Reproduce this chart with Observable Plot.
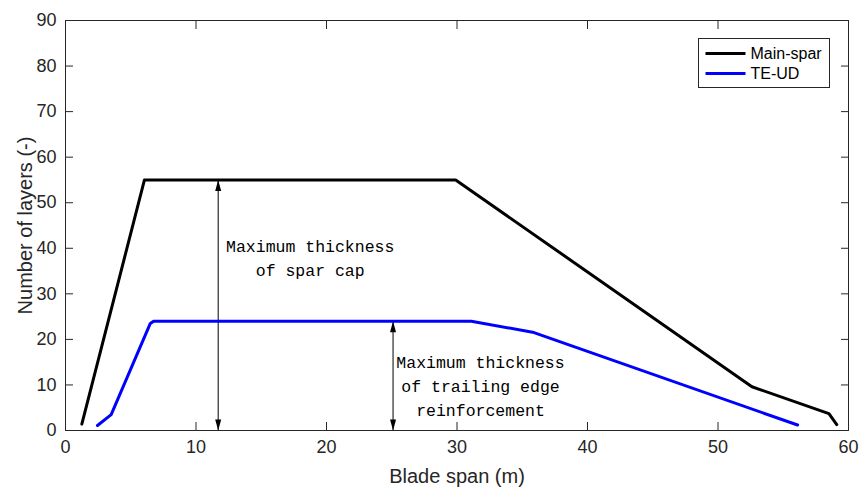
<!DOCTYPE html>
<html><head><meta charset="utf-8">
<script src="https://cdn.jsdelivr.net/npm/d3@7"></script>
<script src="https://cdn.jsdelivr.net/npm/@observablehq/plot@0.6"></script>
<style>
html,body{margin:0;padding:0;background:#fff;}
#chart svg{display:block;}
</style></head><body><div id="chart"></div>
<script>
// ---- data ----
const mainSparSpan   = [1.25, 6.05, 29.9, 52.6, 58.5, 59.1];
const mainSparLayers = [1.4, 55, 55, 9.6, 3.7, 1.3];
const teudSpan       = [2.45, 3.5, 6.5, 6.75, 31.1, 35.9, 56.1];
const teudLayers     = [1.1, 3.5, 23.5, 24, 24, 21.5, 1.2];

const seriesNames  = ["Main-spar", "TE-UD"];
const seriesColors = ["#000000", "#0000ff"];

const xTicks = [0, 10, 20, 30, 40, 50, 60];
const yTicks = [0, 10, 20, 30, 40, 50, 60, 70, 80, 90];

// annotations: double arrows (span, top value) and their labels
const arrowSpan = [11.7, 25.1];
const arrowTop  = [55, 24];
const noteText  = ["Maximum thickness\nof spar cap", "Maximum thickness\nof trailing edge\nreinforcement"];
const noteSpan  = [18.75, 31.8];
const noteLayer = [38.2, 10.1];

// ---- build tables ----
const mainRows = mainSparSpan.map((x, i) => ({x, y: mainSparLayers[i]}));
const teudRows = teudSpan.map((x, i) => ({x, y: teudLayers[i]}));
const arrows = arrowSpan.map((x, i) => ({x, top: arrowTop[i]}));
const notes = noteText.map((t, i) => ({t, x: noteSpan[i], y: noteLayer[i]}));

const arrowUp = {draw(ctx) { ctx.moveTo(0, 0); ctx.lineTo(3, 11); ctx.lineTo(-3, 11); ctx.closePath(); }};
const arrowDown = {draw(ctx) { ctx.moveTo(0, 0); ctx.lineTo(3, -11); ctx.lineTo(-3, -11); ctx.closePath(); }};

const axisColor = "#262626";
const sans = "'Liberation Sans', Arial, Helvetica, sans-serif";

const legendMarks = seriesNames.flatMap((name, i) => [
  Plot.frame({insetLeft: 640, insetRight: 103, insetTop: 31.5 + 20 * i, insetBottom: 375.5 - 20 * i,
              fill: seriesColors[i], stroke: "none"}),
  Plot.text([name], {frameAnchor: "top-right", dx: -98, dy: 33 + 20 * i, text: d => d,
              textAnchor: "start", lineAnchor: "middle", fontSize: 16, fontFamily: sans, fill: "#000"})
]);

const chart = Plot.plot({
  width: 860,
  height: 489,
  marginLeft: 65,
  marginRight: 12,
  marginTop: 20,
  marginBottom: 59,
  style: {fontFamily: sans, color: axisColor, background: "#fff"},
  x: {domain: [0, 60]},
  y: {domain: [0, 90]},
  marks: [
    // tick labels
    Plot.axisX(xTicks, {anchor: "bottom", tickSize: 0, tickPadding: 10, fontSize: 18, label: null, fill: axisColor}),
    Plot.axisY(yTicks, {anchor: "left", tickSize: 0, tickPadding: 9, fontSize: 18, label: null, fill: axisColor}),
    // inward ticks on all sides
    Plot.axisX(xTicks, {anchor: "bottom", tickSize: -8, tickFormat: () => "", label: null, stroke: axisColor}),
    Plot.axisX(xTicks, {anchor: "top", tickSize: -8, tickFormat: () => "", label: null, stroke: axisColor}),
    Plot.axisY(yTicks, {anchor: "left", tickSize: -8, tickFormat: () => "", label: null, stroke: axisColor}),
    Plot.axisY(yTicks, {anchor: "right", tickSize: -8, tickFormat: () => "", label: null, stroke: axisColor}),
    // axis titles
    Plot.text(["Blade span (m)"], {frameAnchor: "bottom", dy: 52, text: d => d, lineAnchor: "bottom",
              textAnchor: "middle", fontSize: 20, fill: axisColor}),
    Plot.text(["Number of layers (-)"], {frameAnchor: "left", dx: -34, rotate: -90, text: d => d,
              textAnchor: "middle", lineAnchor: "bottom", fontSize: 20, fill: axisColor}),
    // annotations
    Plot.ruleX(arrows, {x: "x", y1: 0, y2: "top", stroke: "#000", strokeWidth: 1}),
    Plot.dot(arrows, {x: "x", y: "top", symbol: arrowUp, fill: "#000", stroke: "none"}),
    Plot.dot(arrows, {x: "x", y: () => 0, symbol: arrowDown, fill: "#000", stroke: "none"}),
    Plot.text(notes, {x: "x", y: "y", text: "t", fontFamily: "'Liberation Mono', 'Courier New', monospace",
              fontSize: 16.5, lineHeight: 1.45, fill: "#000", textAnchor: "middle", lineAnchor: "middle"}),
    // data lines
    Plot.line(mainRows, {x: "x", y: "y", stroke: seriesColors[0], strokeWidth: 3, strokeLinejoin: "round"}),
    Plot.line(teudRows, {x: "x", y: "y", stroke: seriesColors[1], strokeWidth: 3, strokeLinejoin: "round"}),
    // box
    Plot.frame({stroke: axisColor, strokeWidth: 1}),
    // legend
    Plot.frame({insetLeft: 633, insetRight: 19, insetTop: 18, insetBottom: 343, fill: "#fff", stroke: axisColor}),
    ...legendMarks
  ]
});
document.getElementById("chart").appendChild(chart);
</script>
</body></html>
